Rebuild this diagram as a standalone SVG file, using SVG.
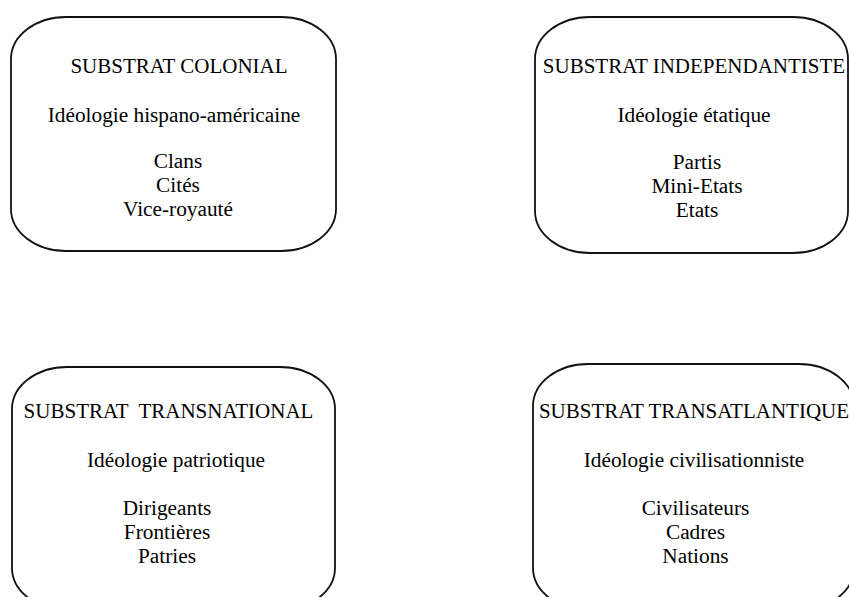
<svg xmlns="http://www.w3.org/2000/svg" width="849" height="597" viewBox="0 0 849 597">
<style>
.box{fill:#fff;stroke:#111;stroke-width:1.8}
.t{font-family:'Liberation Serif','Times New Roman','DejaVu Serif',serif;font-size:21px;fill:#000;text-anchor:middle}
.b{font-family:'Liberation Serif','Times New Roman','DejaVu Serif',serif;font-size:21.3px;fill:#000;text-anchor:middle}
</style>
<rect width="849" height="597" fill="#fff"/>
<g id="connectors"></g>
<g id="colonial">
<rect class="box" x="11" y="17" width="325" height="234" rx="55" ry="42"/>
<text class="t" x="179" y="73">SUBSTRAT COLONIAL</text>
<text class="b" x="174" y="122">Idéologie hispano-américaine</text>
<text class="b" x="178" y="168">Clans</text>
<text class="b" x="178" y="192">Cités</text>
<text class="b" x="178" y="216">Vice-royauté</text>
</g>
<g id="independantiste">
<rect class="box" x="535" y="17" width="313" height="236" rx="55" ry="42"/>
<text class="t" x="694" y="73">SUBSTRAT INDEPENDANTISTE</text>
<text class="b" x="694" y="122">Idéologie étatique</text>
<text class="b" x="697" y="169">Partis</text>
<text class="b" x="697" y="193">Mini-Etats</text>
<text class="b" x="697" y="217">Etats</text>
</g>
<g id="transnational">
<rect class="box" x="12" y="367" width="323" height="243" rx="55" ry="42"/>
<text class="t" x="168.5" y="418" xml:space="preserve">SUBSTRAT  TRANSNATIONAL</text>
<text class="b" x="176" y="467">Idéologie patriotique</text>
<text class="b" x="167" y="515">Dirigeants</text>
<text class="b" x="167" y="539">Frontières</text>
<text class="b" x="167" y="563">Patries</text>
</g>
<g id="transatlantique">
<rect class="box" x="533" y="364" width="321" height="246" rx="55" ry="42"/>
<text class="t" x="694" y="418">SUBSTRAT TRANSATLANTIQUE</text>
<text class="b" x="694" y="467">Idéologie civilisationniste</text>
<text class="b" x="695.5" y="515">Civilisateurs</text>
<text class="b" x="695.5" y="539">Cadres</text>
<text class="b" x="695.5" y="563">Nations</text>
</g>
</svg>
